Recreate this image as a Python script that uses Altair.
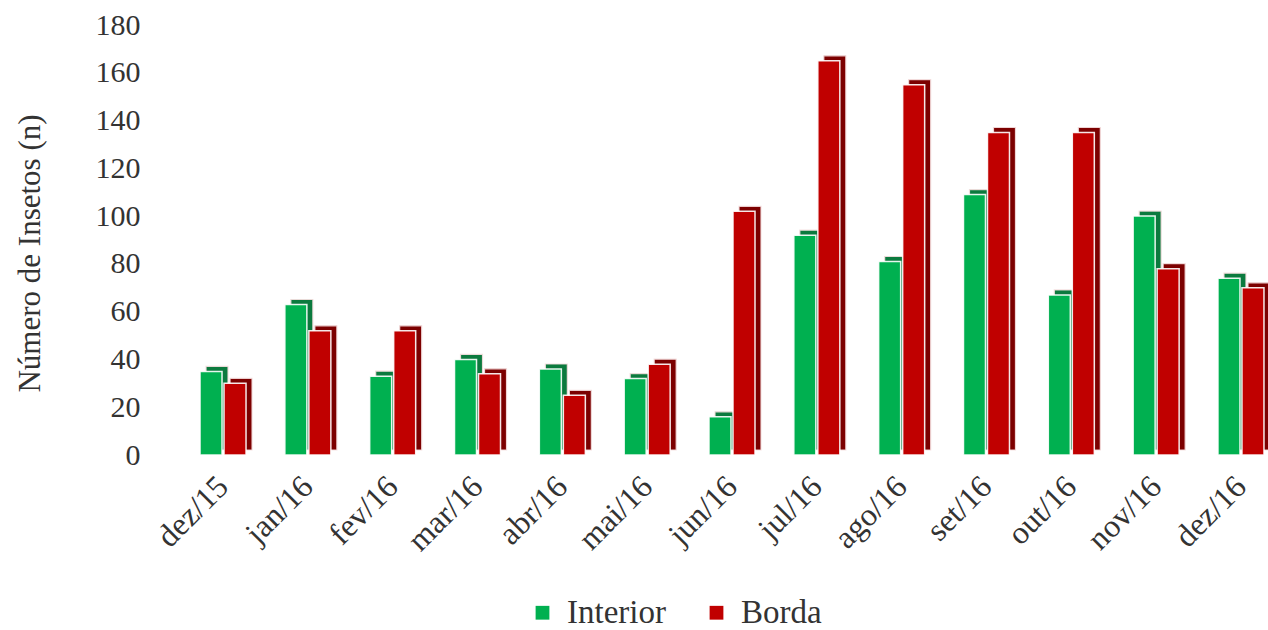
import altair as alt
import pandas as pd

# Monthly insect counts for the two sampling positions
months = ["dez/15", "jan/16", "fev/16", "mar/16", "abr/16", "mai/16", "jun/16",
          "jul/16", "ago/16", "set/16", "out/16", "nov/16", "dez/16"]
interior = [35, 63, 33, 40, 36, 32, 16, 92, 81, 109, 67, 100, 74]
borda = [30, 52, 52, 34, 25, 38, 102, 165, 155, 135, 135, 78, 70]
series = ["Interior", "Borda"]
y_ticks = [0, 20, 40, 60, 80, 100, 120, 140, 160, 180]

rows = []
for m, a, b in zip(months, interior, borda):
    rows.append({"mes": m, "local": "Interior", "n": a})
    rows.append({"mes": m, "local": "Borda", "n": b})
df = pd.DataFrame(rows)

FONT = "Liberation Serif"
TEXT = "#333333"
BAR_W = 22
HALF = 12          # distance from band centre to each bar centre
DEPTH_X, DEPTH_Y = 6, -5

x_enc = alt.X("mes:N", sort=months,
              scale=alt.Scale(paddingInner=0.457, paddingOuter=0),
              axis=alt.Axis(title=None, labelAngle=-45, labelAlign="right",
                            labelBaseline="middle", labelPadding=26,
                            labelFont=FONT, labelFontSize=32, labelColor=TEXT,
                            ticks=False, domain=False))
y_enc = alt.Y("n:Q",
              scale=alt.Scale(domain=[0, 180], nice=False),
              axis=alt.Axis(title="Número de Insetos (n)", values=y_ticks,
                            grid=False, domain=False, ticks=False,
                            labelPadding=60, labelFont=FONT, labelFontSize=30,
                            labelColor=TEXT, titleFont=FONT, titleFontSize=31,
                            titleFontWeight="normal", titleColor=TEXT,
                            titleX=-170, titleY=228, titleAngle=-90,
                            titleAlign="center", titleBaseline="middle"))

color_enc = alt.Color("local:N", sort=series,
                      scale=alt.Scale(domain=series, range=["#00B050", "#C00000"]),
                      legend=alt.Legend(title=None, orient="none", direction="horizontal",
                                        legendX=326, legendY=571, padding=0,
                                        symbolType="square", symbolSize=190,
                                        symbolStrokeWidth=0, labelFont=FONT,
                                        labelFontSize=33, labelColor=TEXT,
                                        labelOffset=8, columnPadding=34))

dark = {"Interior": "#0b7a3e", "Borda": "#7c0000"}
offsets = {"Interior": -HALF, "Borda": HALF}

layers = []
for s in series:
    base = alt.Chart(df).transform_filter(alt.datum.local == s)
    # depth face: the same bar pushed up and to the right in a darker tone
    layers.append(base.mark_bar(width=BAR_W, xOffset=offsets[s] + DEPTH_X, yOffset=DEPTH_Y,
                                stroke="#f4dede", strokeWidth=1.2, strokeOpacity=0.9,
                                color=dark[s]).encode(x=x_enc, y=y_enc))
    layers.append(base.mark_bar(width=BAR_W, xOffset=offsets[s],
                                stroke="#ffffff", strokeWidth=1.5, strokeOpacity=0.9)
                  .encode(x=x_enc, y=y_enc, color=color_enc))

chart = alt.layer(*layers).properties(
    width=1064, height=430, background="#ffffff",
    autosize=alt.AutoSizeParams(type="none"),
    padding={"left": 200, "top": 25, "right": 4, "bottom": 175},
).configure_view(stroke=None)

chart.save("out.html", embed_options={"renderer": "svg", "actions": False})
